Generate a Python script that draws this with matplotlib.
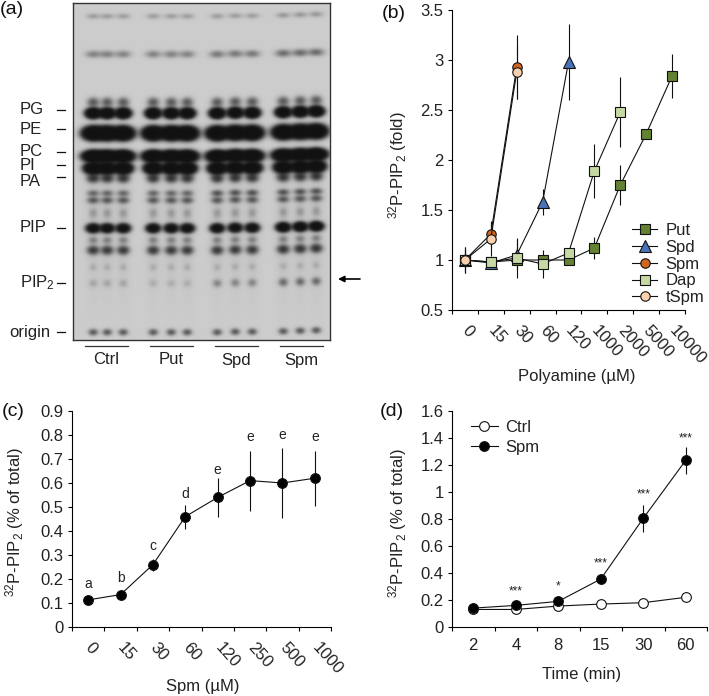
#!/usr/bin/env python3
import numpy as np
import matplotlib
matplotlib.use('Agg')
import matplotlib.pyplot as plt

plt.rcParams['font.family'] = ['Liberation Sans', 'DejaVu Sans']
plt.rcParams['mathtext.fontset'] = 'custom'
plt.rcParams['mathtext.rm'] = 'Liberation Sans'
plt.rcParams['mathtext.default'] = 'regular'
plt.rcParams['axes.linewidth'] = 0.8

W, H = 709, 696
TEXT = '#222222'
FS = 12

# (a) gel, everything in picture pixels
lane_x = [[93, 107, 123], [153, 171, 187], [217, 235, 252], [283, 300, 316]]
lane_shift = [[0, 0, 0], [0, 0, 0], [0, -0.5, -0.5], [-1, -1.5, -2]]
group_names = ['Ctrl', 'Put', 'Spd', 'Spm']
band_y = [16, 54, 102, 113, 133, 156, 168, 178, 193, 200, 213, 228, 240, 250, 267, 283, 332]
band_sx = [4.5, 5, 3.8, 4.3, 5.8, 5.8, 5, 4, 3.8, 3.8, 2.8, 4, 3.2, 3.8, 2.5, 3, 3]
band_sy = [1.9, 2.4, 3, 2.9, 3.7, 3.1, 3.1, 2.8, 2, 2.2, 3.2, 2.6, 2.4, 2.8, 2.4, 2.6, 2.1]
band_ctrl = [.22, .38, .7, 6, 8, 8, 7, 1.2, .55, .7, .2, 4, .35, 1.1, .12, .16, .7]
band_put = [.22, .38, .7, 6, 8, 8, 7, 1.2, .55, .7, .2, 4, .35, 1.1, .12, .12, .7]
band_spd = [.22, .45, .7, 6, 8, 8, 7, 1.2, .75, .7, .2, 4, .35, 1.1, .12, .35, .7]
band_spm = [.25, .55, .7, 6, 8, 8, 7, 1.2, .75, .7, .2, 5, .35, 1.2, .12, .55, .7]
band_by_group = [band_ctrl, band_put, band_spd, band_spm]
gel_labels = ['PG', 'PE', 'PC', 'PI', 'PA', 'PIP', 'PIP$_2$', 'origin']
gel_tick_y = [110, 129, 152, 165, 177, 228, 283, 332]
gel_label_y = [110, 129, 151, 166, 182, 228, 283, 333]

# (b)
poly_doses = ['0', '15', '30', '60', '120', '1000', '2000', '5000', '10000']
put_mean = [1, 0.98, 1, 1, 1, 1.12, 1.75, 2.26, 2.84]
put_err = [0.05, 0.05, 0.05, 0.05, 0.05, 0.11, 0.2, 0.05, 0.22]
spd_mean = [1, 0.97, 1.05, 1.58, 2.98]
spd_err = [0.05, 0.05, 0.15, 0.13, 0.38]
spm_mean = [1, 1.26, 2.93]
spm_err = [0.13, 0.13, 0.32]
dap_mean = [1, 0.98, 1.02, 0.96, 1.07, 1.89, 2.48]
dap_err = [0.1, 0.05, 0.2, 0.14, 0.05, 0.27, 0.35]
tspm_mean = [1, 1.21, 2.88]
tspm_err = [0.13, 0.17, 0.27]

# (c)
spm_doses = ['0', '15', '30', '60', '120', '250', '500', '1000']
dose_mean = [0.113, 0.135, 0.26, 0.46, 0.54, 0.61, 0.60, 0.62]
dose_err = [0.01, 0.012, 0.025, 0.05, 0.08, 0.125, 0.147, 0.115]
dose_letters = ['a', 'b', 'c', 'd', 'e', 'e', 'e', 'e']
letter_y = [0.18, 0.204, 0.337, 0.553, 0.656, 0.79, 0.80, 0.793]

# (d)
times = ['2', '4', '8', '15', '30', '60']
ctrl_mean = [0.13, 0.13, 0.155, 0.17, 0.18, 0.22]
ctrl_err = [0.01, 0.01, 0.01, 0.01, 0.02, 0.02]
time_spm_mean = [0.14, 0.16, 0.19, 0.355, 0.805, 1.235]
time_spm_err = [0.02, 0.02, 0.02, 0.02, 0.1, 0.1]
stars = ['', '***', '*', '***', '***', '***']
star_y = [0, 0.26, 0.297, 0.47, 0.985, 1.4]

fig = plt.figure(figsize=(W / 100, H / 100), dpi=100)


def px_axes(left, right, top, bottom):
    return fig.add_axes([left / W, 1 - bottom / H, (right - left) / W, (bottom - top) / H])


def px_text(x, y, s, **kw):
    kw.setdefault('color', TEXT)
    return fig.text(x / W, 1 - y / H, s, **kw)


def style(ax, n, labels, rotate, ylim, yticks, yticklabels):
    ax.spines[['top', 'right']].set_visible(False)
    ax.set_xlim(0, n)
    ax.set_ylim(*ylim)
    ax.set_yticks(yticks, yticklabels, fontsize=FS, color=TEXT)
    ax.set_xticks(np.arange(n + 1), minor=True)
    ax.tick_params(axis='x', which='minor', length=3, width=0.8)
    ax.tick_params(axis='y', length=3, width=0.8, pad=3)
    if rotate:
        ax.set_xticks(np.arange(n) + 0.5, labels, fontsize=FS, color=TEXT,
                      rotation=-48, ha='left', va='center', rotation_mode='anchor')
        ax.tick_params(axis='x', which='major', length=0, pad=13)
    else:
        ax.set_xticks(np.arange(n) + 0.5, labels, fontsize=FS, color=TEXT)
        ax.tick_params(axis='x', which='major', length=0, pad=8)


def series(ax, mean, err, **kw):
    x = np.arange(len(mean)) + 0.5
    ax.errorbar(x, mean, yerr=err, color='#111111', lw=0.8, elinewidth=0.8,
                mec='#111111', mew=0.8, clip_on=False, **kw)


# (a)
ax = px_axes(73, 330, 3, 340)
xx, yy = np.meshgrid(np.arange(73, 330, 0.5), np.arange(3, 340, 0.5))
density = np.zeros_like(xx)
for g in range(4):
    strengths = band_by_group[g]
    for x0, dy in zip(lane_x[g], lane_shift[g]):
        density += 0.06 * np.exp(-(xx - x0) ** 2 / (2 * 5.0 ** 2)) * np.exp(-(yy - 215) ** 2 / (2 * 50.0 ** 2))
        for y0, sx, sy, s in zip(band_y, band_sx, band_sy, strengths):
            density += s * np.exp(-(xx - x0) ** 2 / (2 * sx ** 2) - (yy - y0 - dy) ** 2 / (2 * sy ** 2))
gel = 0.80 - (0.80 - 0.07) * (1 - np.exp(-1.3 * density))
ax.imshow(gel, cmap='gray', vmin=0, vmax=1, extent=(73, 330, 340, 3), aspect='auto')
ax.set_xticks([])
ax.set_yticks([])
for s in ax.spines.values():
    s.set_linewidth(1.0)
    s.set_color('#333333')

for name, ty, ly in zip(gel_labels, gel_tick_y, gel_label_y):
    fig.add_artist(plt.Line2D([57 / W, 65 / W], [1 - ty / H] * 2, color='#111111', lw=0.9))
    if name == 'origin':
        px_text(50, ly, name, ha='right', va='center', fontsize=FS)
    else:
        px_text(20, ly, name, ha='left', va='center', fontsize=FS)
for name, (l, r) in zip(group_names, [(85, 128), (150, 193), (215, 258), (280, 323)]):
    fig.add_artist(plt.Line2D([l / W, r / W], [1 - 346 / H] * 2, color='#333333', lw=0.9))
    px_text((l + r) / 2, 360, name, ha='center', va='center', fontsize=FS)
fig.add_artist(matplotlib.patches.FancyArrowPatch(
    (360 / W, 1 - 279 / H), (338 / W, 1 - 279 / H), transform=fig.transFigure,
    arrowstyle='-|>', mutation_scale=9, color='black', lw=1.2, shrinkA=0, shrinkB=0))

# (b)
ax = px_axes(452, 685, 10, 310)
style(ax, 9, poly_doses, True, (0.5, 3.5), [0.5, 1, 1.5, 2, 2.5, 3, 3.5],
      ['0.5', '1', '1.5', '2', '2.5', '3', '3.5'])
series(ax, put_mean, put_err, fmt='-s', ms=7.2, mfc='#638232', label='Put')
series(ax, spd_mean, spd_err, fmt='-^', ms=8, mfc='#4a72b8', label='Spd')
series(ax, spm_mean, spm_err, fmt='-o', ms=6.8, mfc='#d2661e', label='Spm')
series(ax, dap_mean, dap_err, fmt='-s', ms=7.2, mfc='#c6d9a2', label='Dap')
series(ax, tspm_mean, tspm_err, fmt='-o', ms=6.8, mfc='#f8d0ae', label='tSpm')
handles, labels = ax.get_legend_handles_labels()
ax.legend([h[0] for h in handles], labels, frameon=False, fontsize=FS, labelspacing=0.1,
          handlelength=1.5, handletextpad=0.5, borderpad=0, borderaxespad=0, loc='lower left',
          bbox_to_anchor=((632 - 452) / 233, (310 - 305) / 300), labelcolor=TEXT)
px_text(398, 165, '$^{32}$P-PIP$_2$ (fold)', rotation=90, ha='center', va='center', fontsize=FS)
px_text(577, 377, 'Polyamine (µM)', ha='center', va='center', fontsize=FS)

# (c)
ax = px_axes(72, 331, 411, 627)
vals = [0, 0.1, 0.2, 0.3, 0.4, 0.5, 0.6, 0.7, 0.8, 0.9]
style(ax, 8, spm_doses, True, (0, 0.9), vals, ['0'] + [f'{v:.1f}' for v in vals[1:]])
series(ax, dose_mean, dose_err, fmt='-o', ms=7, mfc='black')
for i, (s, y) in enumerate(zip(dose_letters, letter_y)):
    ax.text(i + 0.5, y, s, ha='center', va='center', fontsize=10, color=TEXT)
px_text(15, 522, '$^{32}$P-PIP$_2$ (% of total)', rotation=90, ha='center', va='center', fontsize=FS)
px_text(203, 686, 'Spm (µM)', ha='center', va='center', fontsize=FS)

# (d)
ax = px_axes(452, 707, 411, 627)
vals = [0, 0.2, 0.4, 0.6, 0.8, 1, 1.2, 1.4, 1.6]
style(ax, 6, times, False, (0, 1.6), vals, ['0', '0.2', '0.4', '0.6', '0.8', '1', '1.2', '1.4', '1.6'])
series(ax, ctrl_mean, ctrl_err, fmt='-o', ms=7, mfc='white', label='Ctrl')
series(ax, time_spm_mean, time_spm_err, fmt='-o', ms=7, mfc='black', label='Spm')
for i, (s, y) in enumerate(zip(stars, star_y)):
    if s:
        ax.text(i + 0.5, y, s, ha='center', va='center', fontsize=8.5, color=TEXT)
handles, labels = ax.get_legend_handles_labels()
ax.legend([h[0] for h in handles], labels, frameon=False, fontsize=FS, labelspacing=0.3,
          handlelength=1.6, handletextpad=0.45, borderpad=0, borderaxespad=0, loc='upper left',
          bbox_to_anchor=((471 - 452) / 255, (627 - 420) / 216), labelcolor=TEXT)
px_text(398, 523, '$^{32}$P-PIP$_2$ (% of total)', rotation=90, ha='center', va='center', fontsize=FS)
px_text(582, 675, 'Time (min)', ha='center', va='center', fontsize=FS)

# panel letters
for x, y, s in [(0, 10, '(a)'), (382, 13, '(b)'), (2, 412, '(c)'), (380, 412, '(d)')]:
    px_text(x, y, s, ha='left', va='center', fontsize=14, color='#111111')

fig.savefig('out.png', dpi=100)
